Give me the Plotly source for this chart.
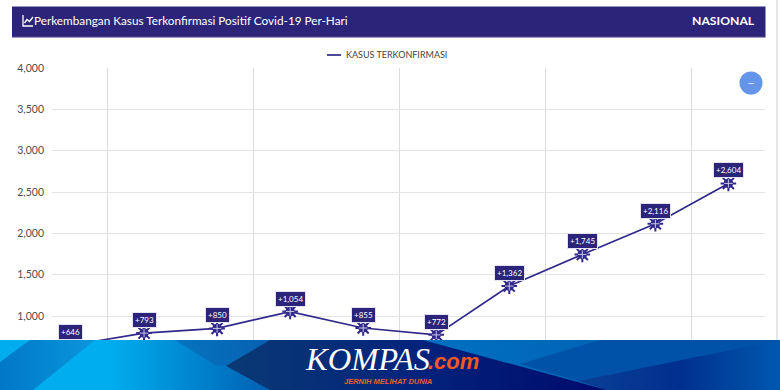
import base64
import plotly.graph_objects as go

days = list(range(10))
cases = [646, 793, 850, 1054, 855, 772, 1362, 1745, 2116, 2604]
labels = ["+646", "+793", "+850", "+1,054", "+855", "+772", "+1,362", "+1,745", "+2,116", "+2,604"]
y_ticks = [1000, 1500, 2000, 2500, 3000, 3500, 4000]
x_grid = [0.5, 2.5, 4.5, 6.5, 8.5]
series_name = "KASUS TERKONFIRMASI"
title_text = "Perkembangan Kasus Terkonfirmasi Positif Covid-19 Per-Hari"
scope_text = "NASIONAL"

NAVY = "#2b2478"
LINE = "#30288a"
W, H = 780, 390
L, R, T, B = 52, 15, 68, 0
PW, PH = W - L - R, H - T - B


def px(x):
    return (x - L) / PW


def py(y):
    return (H - B - y) / PH


banner_svg = """<svg xmlns='http://www.w3.org/2000/svg' width='780' height='50' viewBox='0 0 780 50'>
<defs>
<linearGradient id='a' x1='0' x2='1' y1='0' y2='0'><stop offset='0' stop-color='#00aeef'/><stop offset='.14' stop-color='#00aeef'/><stop offset='.34' stop-color='#0062b4'/><stop offset='.55' stop-color='#0070c0'/><stop offset='1' stop-color='#0058ad'/></linearGradient>
<linearGradient id='b' x1='0' x2='1' y1='0' y2='0'><stop offset='0' stop-color='#0078c8'/><stop offset='1' stop-color='#0a96dc'/></linearGradient>
<linearGradient id='c' x1='0' x2='1' y1='0' y2='0'><stop offset='0' stop-color='#0a3a74'/><stop offset='.5' stop-color='#03237c'/><stop offset='1' stop-color='#000a6c'/></linearGradient>
<linearGradient id='d' x1='0' x2='1' y1='0' y2='0'><stop offset='0' stop-color='#0a3f96'/><stop offset='.5' stop-color='#00308f'/><stop offset='1' stop-color='#0058ae'/></linearGradient>
</defs>
<rect width='780' height='50' fill='url(#a)'/>
<polygon points='30,0 95,0 33,50 0,50 0,22' fill='url(#b)'/>
<polygon points='175,0 270,0 226,26 215,25' fill='#0a62b0' opacity='.6'/>
<polygon points='520,24 600,0 780,0 780,0 578,41' fill='#0052a8'/>
<polygon points='578,41 780,0 780,50 607,50' fill='url(#d)'/>
<polygon points='270,0 423,0 607,50 270,50 226,26' fill='url(#c)'/>
</svg>"""
banner_uri = "data:image/svg+xml;base64," + base64.b64encode(banner_svg.encode()).decode()

fig = go.Figure()
fig.add_trace(go.Scatter(x=days, y=cases, mode="lines", name=series_name, showlegend=False,
                         line=dict(color=LINE, width=1.7)))
fig.add_trace(go.Scatter(x=days, y=cases, mode="markers", showlegend=False, hoverinfo="skip",
                         marker=dict(symbol="asterisk-open", size=13, color=LINE, line=dict(color=LINE, width=2))))
fig.add_trace(go.Scatter(x=days, y=cases, mode="markers", showlegend=False, hoverinfo="skip",
                         marker=dict(symbol="circle", size=9.5, color=LINE)))
fig.add_trace(go.Scatter(x=days, y=cases, mode="markers", showlegend=False, hoverinfo="skip",
                         marker=dict(symbol="cross-thin-open", size=6, color="#c9c6e6", line=dict(color="#c9c6e6", width=1))))

annotations = [
    dict(x=d, y=v, xref="x", yref="y", text=t, showarrow=False, yshift=13,
         font=dict(family="Lato", size=8, color="white"), bgcolor=NAVY,
         bordercolor="#e4e2f2", borderwidth=1, borderpad=2)
    for d, v, t in zip(days, cases, labels)
]


def note(x, y, text, size, color, family="Lato", anchor="left", **font):
    return dict(x=px(x), y=py(y), xref="paper", yref="paper", text=text, showarrow=False,
                xanchor=anchor, yanchor="middle", borderpad=0,
                font=dict(family=family, size=size, color=color, **font))


annotations += [
    note(33, 21, title_text, 11.75, "white"),
    note(755.5, 21, scope_text, 12.2, "white", anchor="right", weight="bold"),
    note(751, 82.5, "–", 14, "#dce8fb", anchor="center"),
    note(345, 55, series_name, 9, "#444444"),
    note(304, 359, "KOMPAS", 32.5, "white", family="Liberation Serif", style="italic"),
    note(427, 361, ".com", 22, "#f15a22", family="Liberation Sans", style="italic", weight="bold"),
    note(388, 381, "JERNIH MELIHAT DUNIA", 7.5, "#e8622a", family="Liberation Sans", anchor="center",
         style="italic", weight="bold"),
]

icon = (f"M{px(23)},{py(15)} L{px(23)},{py(26)} L{px(33)},{py(26)} "
        f"M{px(24.5)},{py(23)} L{px(27)},{py(19.5)} L{px(29.5)},{py(21.5)} L{px(33)},{py(17)}")

shapes = [
    dict(type="rect", xref="paper", yref="paper", x0=px(12), x1=px(765.5), y0=py(37), y1=py(6.5),
         fillcolor=NAVY, line=dict(width=0), layer="above"),
    dict(type="line", xref="paper", yref="paper", x0=px(12), x1=px(765.5), y0=py(37.2), y1=py(37.2),
         line=dict(color="#6f68ad", width=1), layer="above"),
    dict(type="path", xref="paper", yref="paper", path=icon, line=dict(color="white", width=1.3), layer="above"),
    dict(type="line", xref="paper", yref="paper", x0=px(327), x1=px(341), y0=py(55), y1=py(55),
         line=dict(color=LINE, width=1.7), layer="above"),
    dict(type="circle", xref="paper", yref="paper", x0=px(739.5), x1=px(762.5), y0=py(94.5), y1=py(71.5),
         fillcolor="#6495e8", line=dict(width=0), layer="above"),
    dict(type="line", xref="paper", yref="paper", x0=px(777), x1=px(777), y0=py(340), y1=py(0),
         line=dict(color="#e6e6e6", width=2), layer="above"),
]

images = [dict(source=banner_uri, xref="paper", yref="paper", x=px(0), y=py(340),
               sizex=780 / PW, sizey=50 / PH, sizing="stretch", xanchor="left", yanchor="top",
               layer="above")]

fig.update_layout(
    width=W, height=H,
    margin=dict(l=L, r=R, t=T, b=B, autoexpand=False),
    paper_bgcolor="white", plot_bgcolor="white",
    font=dict(family="Lato", color="#555555"),
    showlegend=False,
    xaxis=dict(range=[-0.26, 9.501], tickvals=x_grid, showticklabels=False, ticks="",
               showgrid=True, gridcolor="#dcdcdc", gridwidth=1, zeroline=False, showline=False),
    yaxis=dict(range=[105, 4000], tickvals=y_ticks, tickformat=",d", ticks="",
               tickfont=dict(family="Lato", size=10.5, color="#4d4d4d"), ticklabelstandoff=7,
               showgrid=True, gridcolor="#e3e3e3", gridwidth=1, zeroline=False, showline=False),
    annotations=annotations, shapes=shapes, images=images,
)

fig.write_html("out.html", config=dict(displayModeBar=False),
               post_script="document.body.style.margin='0';document.documentElement.style.overflow='hidden';")
